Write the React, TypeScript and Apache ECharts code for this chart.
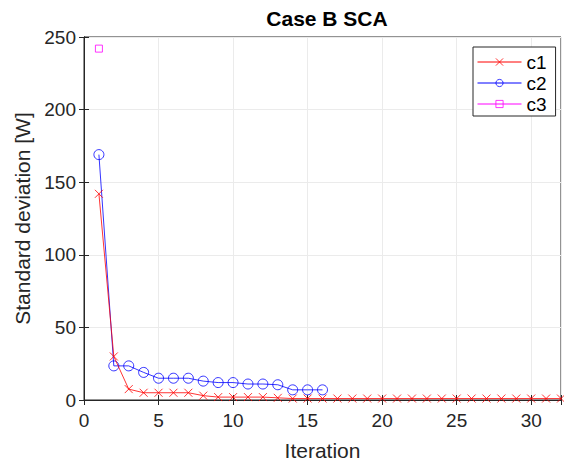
import React, { useEffect, useRef } from "react";
import * as echarts from "echarts";

const iterations = Array.from({ length: 32 }, (_, i) => i + 1);
const c1Values = [142, 30, 7.5, 5, 5, 5, 5, 3, 2, 2, 2, 2, 1.5, 1, 1, 1, 1, 1, 1, 1, 1, 1, 1, 1, 1, 1, 1, 1, 1, 1, 1, 1];
const c2Values = [169, 23.5, 23.5, 19, 15, 15, 15, 13, 12, 12, 11, 11, 10.5, 7, 7, 7];
const c3Values = [242];
const xTicks = [0, 5, 10, 15, 20, 25, 30];
const yTicks = [0, 50, 100, 150, 200, 250];

const FONT = "Liberation Sans, Arial, Helvetica, sans-serif";
const TXT = "#262626";

const crossPath = "path://M0,0L10,10M10,0L0,10";

export default function App() {
  const ref = useRef<HTMLDivElement>(null);
  useEffect(() => {
    if (!ref.current) return;
    const chart = echarts.init(ref.current, undefined, { renderer: "svg" });
    const pairs = (vals: number[]) => vals.map((v, i) => [iterations[i], v]);
    const boxAxisCommon = {
      axisLabel: { show: false },
      splitLine: { show: false },
      axisLine: { show: true, lineStyle: { color: TXT } },
      axisTick: { show: true, inside: true, length: 5, lineStyle: { color: TXT } },
    };
    chart.setOption({
      animation: false,
      textStyle: { fontFamily: FONT },
      title: {
        text: "Case B SCA",
        left: 322,
        textAlign: "center",
        top: 3,
        textStyle: { fontFamily: FONT, fontWeight: "bold", fontSize: 21, color: "#000" },
      },
      grid: {
        left: 84,
        right: 3,
        top: 37,
        bottom: 61,
        show: true,
        borderColor: TXT,
        borderWidth: 1,
        backgroundColor: "#fff",
        containLabel: false,
        outerBoundsMode: "none",
      },
      legend: {
        orient: "vertical",
        left: 473,
        top: 47,
        backgroundColor: "#fff",
        borderColor: TXT,
        borderWidth: 1,
        borderRadius: 0,
        padding: [5, 9, 2, 4],
        itemGap: 1,
        itemWidth: 44,
        itemHeight: 9,
        lineStyle: { width: 1 },
        itemStyle: { borderWidth: 0.8 },
        textStyle: { fontFamily: FONT, fontSize: 19, color: "#000", lineHeight: 20 },
        data: ["c1", "c2", "c3"],
      },
      xAxis: [
        {
          type: "value",
          min: 0,
          max: 32,
          interval: 5,
          name: "Iteration",
          nameLocation: "middle",
          nameGap: 40,
          nameTextStyle: { fontFamily: FONT, fontSize: 21, color: TXT },
          axisLine: { lineStyle: { color: TXT } },
          axisTick: { inside: true, length: 5, lineStyle: { color: TXT } },
          axisLabel: {
            fontFamily: FONT,
            fontSize: 19,
            color: TXT,
            margin: 11,
            formatter: (v: number) => (xTicks.includes(v) ? String(v) : ""),
          },
          splitLine: { show: true, lineStyle: { color: "#ebebeb" } },
        },
        { type: "value", position: "top", min: 0, max: 32, interval: 5, ...boxAxisCommon },
      ],
      yAxis: [
        {
          type: "value",
          min: 0,
          max: 250,
          interval: 50,
          name: "Standard deviation [W]",
          nameLocation: "middle",
          nameGap: 50,
          nameTextStyle: { fontFamily: FONT, fontSize: 21, color: TXT },
          axisLine: { show: true, lineStyle: { color: TXT } },
          axisTick: { show: true, inside: true, length: 5, lineStyle: { color: TXT } },
          axisLabel: {
            fontFamily: FONT,
            fontSize: 19,
            color: TXT,
            margin: 8,
            formatter: (v: number) => (yTicks.includes(v) ? String(v) : ""),
          },
          splitLine: { show: true, lineStyle: { color: "#ebebeb" } },
        },
        { type: "value", position: "right", min: 0, max: 250, interval: 50, ...boxAxisCommon },
      ],
      series: [
        {
          name: "c1",
          type: "line",
          data: pairs(c1Values),
          symbol: crossPath,
          symbolSize: 8,
          showAllSymbol: true,
          lineStyle: { color: "#ff0000", width: 0.8 },
          itemStyle: { color: "#ff0000", borderColor: "#ff0000", borderWidth: 0.8 },
          z: 3,
        },
        {
          name: "c2",
          type: "line",
          data: pairs(c2Values),
          symbol: "circle",
          symbolSize: 10,
          showAllSymbol: true,
          lineStyle: { color: "#0000ff", width: 0.8 },
          itemStyle: { color: "rgba(0,0,0,0)", borderColor: "#0000ff", borderWidth: 0.8 },
          z: 2,
        },
        {
          name: "c3",
          type: "line",
          data: pairs(c3Values),
          symbol: "rect",
          symbolSize: 7,
          lineStyle: { color: "#ff00ff", width: 0.8 },
          itemStyle: { color: "rgba(0,0,0,0)", borderColor: "#ff00ff", borderWidth: 0.8 },
          z: 4,
        },
      ],
    });
    return () => chart.dispose();
  }, []);
  return <div ref={ref} style={{ width: 564, height: 461, position: "absolute", left: 0, top: 0 }} />;
}
